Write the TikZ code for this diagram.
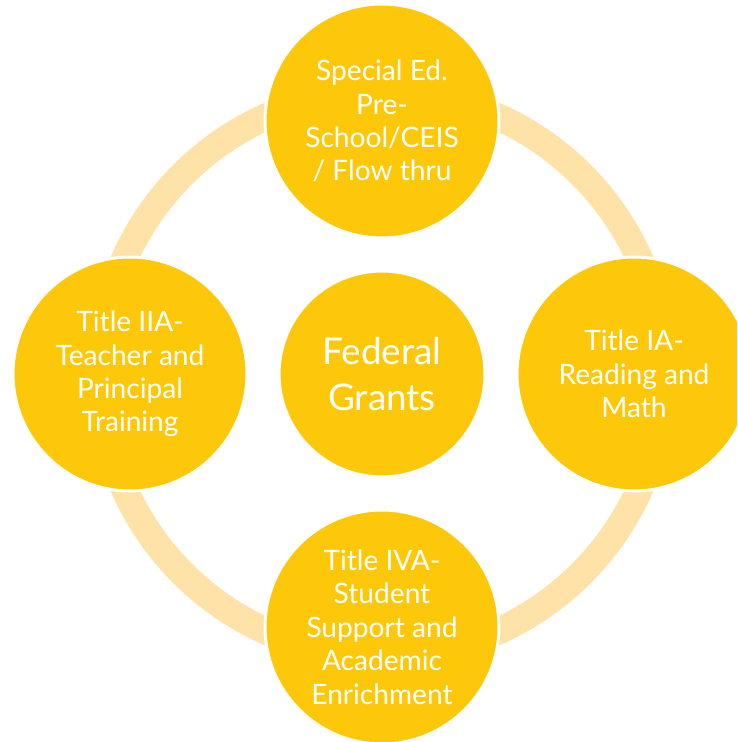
\documentclass[tikz,border=0pt]{standalone}
\usepackage{fontspec}
\setmainfont{Lato}
\usepackage{tikz}
\usetikzlibrary{positioning}
\definecolor{grantgold}{RGB}{254,200,10}
\definecolor{ringtan}{RGB}{255,226,168}

\begin{document}
\begin{tikzpicture}[
    x=0.02cm, y=0.02cm,
    every node/.style={font=\fontsize{16}{19}\selectfont, text=white, align=center},
    grant/.style={circle, fill=grantgold, draw=white, line width=0.06cm, minimum size=4.68cm, inner sep=0pt},
    hub/.style={circle, fill=grantgold, draw=white, line width=0.06cm, minimum size=4.12cm, inner sep=0pt, font=\fontsize{21}{26}\selectfont},
    cycle/.style={draw=ringtan, line width=0.54cm}
]

% Rahmen
\clip (0,0) rectangle (737,742);

% Mitte
\coordinate (mid) at (382,368);
\draw[cycle] (mid) circle (282);

% Kreise
\node[hub] (fed) at (mid) {Federal\\Grants};
\node[grant] (sped) at (382,621) {Special Ed.\\Pre-\\School/CEIS\\/ Flow thru};
\node[grant] (t1a) at (634,368) {Title IA-\\Reading and\\Math};
\node[grant] (t4a) at (382,115) {Title IVA-\\Student\\Support and\\Academic\\Enrichment};
\node[grant] (t2a) at (130,368) {Title IIA-\\Teacher and\\Principal\\Training};

\end{tikzpicture}
\end{document}
